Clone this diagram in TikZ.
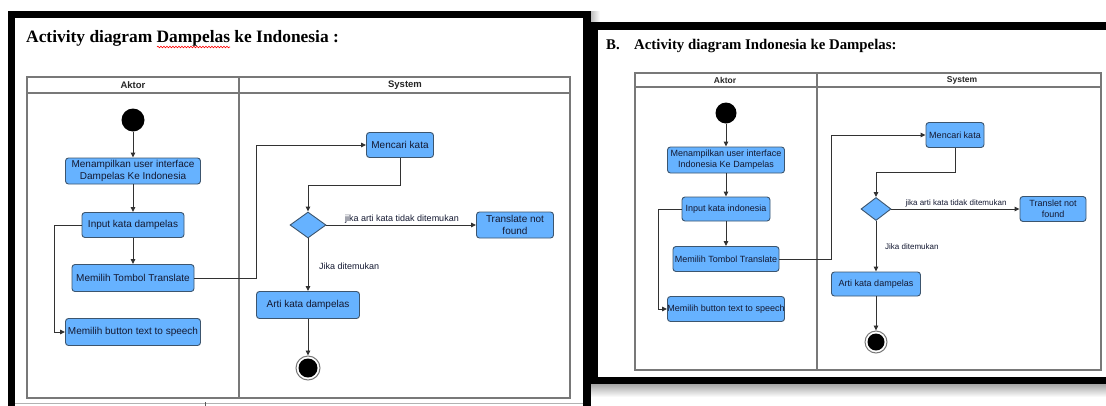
\documentclass[tikz,border=0pt]{standalone}
\usepackage{fontspec}
\setmainfont{Liberation Sans}
\newfontfamily\serifb{Liberation Serif}
\usetikzlibrary{arrows.meta,shapes.geometric,decorations.pathmorphing}
\definecolor{boxfill}{RGB}{102,178,255}
\definecolor{boxline}{RGB}{60,85,110}
\definecolor{boxtext}{RGB}{20,25,50}
\definecolor{conn}{RGB}{50,50,50}
\definecolor{lane}{RGB}{120,120,120}
\tikzset{
  actL/.style={rectangle, rounded corners=3pt, draw=boxline, fill=boxfill, line width=0.9pt,
    align=center, inner sep=0pt, text=boxtext, font=\fontsize{10}{12}\selectfont},
  actR/.style={actL, font=\fontsize{9}{10.8}\selectfont},
  decis/.style={diamond, draw=boxline, fill=boxfill, line width=0.9pt, inner sep=0pt},
  startnode/.style={circle, fill=black, inner sep=0pt},
  endring/.style={circle, draw=lane, line width=1pt, fill=white, inner sep=0pt},
  flow/.style={draw=conn, line width=0.9pt, -{Triangle[length=5pt,width=4.5pt]}},
  lanebox/.style={draw=lane, line width=1.1pt},
  lblL/.style={font=\fontsize{9}{10}\selectfont, text=boxtext, inner sep=0pt},
  lblR/.style={font=\fontsize{8}{9}\selectfont, text=boxtext, inner sep=0pt},
  headL/.style={font=\bfseries\fontsize{9.5}{11}\selectfont, text=black!85, inner sep=0pt},
  headR/.style={font=\bfseries\fontsize{8.5}{10}\selectfont, text=black!85, inner sep=0pt},
}
\begin{document}
\begin{tikzpicture}[x=1pt,y=-1pt]
\useasboundingbox (0,0) rectangle (1106,405);
\clip (0,0) rectangle (1106,405);
\fill[white] (0,0) rectangle (1106,405);
% ---------- frames ----------
\fill[black] (8,11) rectangle (591,410);
\fill[white] (15,18) rectangle (583,410);
\draw[gray!60, line width=0.8pt] (15,403) -- (583,403);
\draw[gray!70!black, line width=0.8pt] (205,402) -- (205,406);
\shade[left color=gray!50, right color=white] (591,11) rectangle (600,22);
\fill[black] (591,22) rectangle (1110,384);
\fill[white] (598,30) rectangle (1110,377);
\shade[top color=gray!70, bottom color=white] (591,384) rectangle (1106,397);

% =================== LEFT PANEL ===================
\node[anchor=base west, font=\serifb\bfseries\fontsize{17.4}{20}\selectfont, inner sep=0pt] (titleL) at (26,42) {Activity diagram Dampelas ke Indonesia :};
\draw[red, line width=0.6pt, decorate, decoration={snake, amplitude=0.8pt, segment length=3pt}] (157,47) -- (230,47);

\draw[lanebox] (27,77) rectangle (570,398);
\draw[lanebox] (27,93) -- (570,93);
\draw[lanebox] (239,77) -- (239,398);
\node[headL] (hAL) at (133,85) {Aktor};
\node[headL] (hSL) at (405,85) {System};

\node[startnode, minimum size=23pt] (stL) at (133,120) {};
\node[actL, minimum width=135pt, minimum height=26pt] (menL) at (133,171) {Menampilkan user interface\\Dampelas Ke Indonesia};
\node[actL, minimum width=102pt, minimum height=25pt] (inL) at (133,225) {Input kata dampelas};
\node[actL, minimum width=122pt, minimum height=27pt] (tomL) at (133,278) {Memilih Tombol Translate};
\node[actL, minimum width=135pt, minimum height=27pt] (ttsL) at (133,332) {Memilih button text to speech};
\node[actL, minimum width=67pt, minimum height=25pt] (cariL) at (400,145) {Mencari kata};
\node[decis, minimum width=36pt, minimum height=26pt] (decL) at (308,225) {};
\node[actL, minimum width=77pt, minimum height=26pt] (tnfL) at (515,225) {Translate not\\found};
\node[actL, minimum width=103pt, minimum height=27pt] (artiL) at (308,305) {Arti kata dampelas};
\node[endring, minimum size=24pt] (endL) at (308,368) {};
\fill[black] (endL.center) circle (9.5pt);

\draw[flow] (stL) -- (menL);
\draw[flow] (menL) -- (inL);
\draw[flow] (inL) -- (tomL);
\draw[flow] (inL.west) -- (54,225) -- (54,332) -- (ttsL.west);
\draw[flow] (tomL.east) -- (256,278) -- (256,145) -- (cariL.west);
\draw[flow] (cariL.south) -- (400,185) -- (308,185) -- (decL.north);
\draw[flow] (decL.east) -- (tnfL.west);
\node[lblL] (lbl1L) at (402,219) {jika arti kata tidak ditemukan};
\draw[flow] (decL.south) -- (artiL.north);
\node[lblL, anchor=west] (lbl2L) at (319,266) {Jika ditemukan};
\draw[flow] (artiL.south) -- (endL.north);

% =================== RIGHT PANEL ===================
\node[anchor=base west, font=\serifb\bfseries\fontsize{14.8}{17}\selectfont, inner sep=0pt] (titleRB) at (606,49) {B.};
\node[anchor=base west, font=\serifb\bfseries\fontsize{14.8}{17}\selectfont, inner sep=0pt] (titleR) at (634,49) {Activity diagram Indonesia ke Dampelas:};

\draw[lanebox] (635,73) rectangle (1101,370);
\draw[lanebox] (635,87) -- (1101,87);
\draw[lanebox] (817,73) -- (817,370);
\node[headR] (hAR) at (725,80) {Aktor};
\node[headR] (hSR) at (962,80) {System};

\node[startnode, minimum size=21pt] (stR) at (726,113) {};
\node[actR, minimum width=117pt, minimum height=26pt] (menR) at (726,160) {Menampilkan user interface\\Indonesia Ke Dampelas};
\node[actR, minimum width=88pt, minimum height=24pt] (inR) at (726,209) {Input kata indonesia};
\node[actR, minimum width=106pt, minimum height=25pt] (tomR) at (726,259) {Memilih Tombol Translate};
\node[actR, minimum width=116pt, minimum height=25pt] (ttsR) at (726,309) {Memilih button text to speech};
\node[actR, minimum width=58pt, minimum height=25pt] (cariR) at (955,135) {Mencari kata};
\node[decis, minimum width=30pt, minimum height=23pt] (decR) at (876,209) {};
\node[actR, minimum width=66pt, minimum height=25pt] (tnfR) at (1053,209) {Translet not\\found};
\node[actR, minimum width=89pt, minimum height=24pt] (artiR) at (876,284) {Arti kata dampelas};
\node[endring, minimum size=22pt] (endR) at (876,342) {};
\fill[black] (endR.center) circle (8.5pt);

\draw[flow] (stR) -- (menR);
\draw[flow] (menR) -- (inR);
\draw[flow] (inR) -- (tomR);
\draw[flow] (inR.west) -- (658,209) -- (658,309) -- (ttsR.west);
\draw[flow] (tomR.east) -- (831,259) -- (831,135) -- (cariR.west);
\draw[flow] (cariR.south) -- (955,172) -- (876,172) -- (decR.north);
\draw[flow] (decR.east) -- (tnfR.west);
\node[lblR] (lbl1R) at (956,203) {jika arti kata tidak ditemukan};
\draw[flow] (decR.south) -- (artiR.north);
\node[lblR, anchor=west] (lbl2R) at (885,247) {Jika ditemukan};
\draw[flow] (artiR.south) -- (endR.north);
\end{tikzpicture}
\end{document}
